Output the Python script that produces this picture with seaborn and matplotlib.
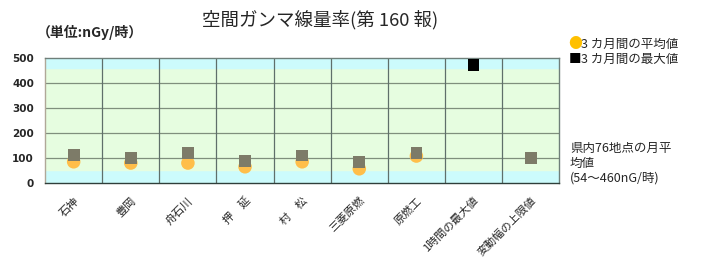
import matplotlib
matplotlib.use("Agg")
import matplotlib.pyplot as plt
import seaborn as sns
import pandas as pd
import numpy as np

sns.set_theme(style="white")
plt.rcParams['font.family'] = ['Noto Sans CJK JP', 'DejaVu Sans']

categories = ["石神", "豊岡", "舟石川", "押　延", "村　松", "三菱原燃", "原燃工", "1時間の最大値", "変動幅の上限値"]
avg_values = [85, 80, 80, 65, 85, 57, 108, np.nan, np.nan]
max_values = [112, 99, 119, 88, 110, 83, 121, 472, 99]
max_colors = ["#7d7b68"] * 7 + ["#000000", "#7d7b68"]
band_low, band_high = 54, 460
yticks = [0, 100, 200, 300, 400, 500]

df = pd.DataFrame({"site": categories, "avg": avg_values, "max": max_values})

fig = plt.figure(figsize=(7.16, 2.72), dpi=100)
ax = fig.add_axes([0.063, 0.327, 0.718, 0.460])

ax.set_xlim(-0.5, len(categories) - 0.5)
ax.set_ylim(0, 500)
ax.axhspan(0, band_low, color="#ccfbfc", zorder=0)
ax.axhspan(band_low, band_high, color="#e6fde0", zorder=0)
ax.axhspan(band_high, 500, color="#ccfbfc", zorder=0)

for y in [100, 200, 300, 400]:
    ax.axhline(y, color="#7f8f7d", lw=0.9, zorder=1)
for i in range(1, len(categories)):
    ax.axvline(i - 0.5, color="#5f6f6a", lw=0.9, zorder=1)

sns.scatterplot(data=df, x="site", y="avg", ax=ax, color="#ffbe4a", marker="o",
                s=95, edgecolor="none", zorder=3, legend=False)
sns.scatterplot(data=df, x="site", y="max", ax=ax, hue="site", palette=max_colors,
                marker="s", s=72, edgecolor="none", zorder=4, legend=False)

ax.set_xlim(-0.5, len(categories) - 0.5)
ax.set_ylim(0, 500)
ax.set_yticks(yticks)
ax.set_yticklabels([str(v) for v in yticks], fontsize=7.5, fontweight="bold", family="DejaVu Sans")
ax.set_xticks(range(len(categories)))
ax.set_xticklabels(categories, rotation=45, ha="right", rotation_mode="anchor", fontsize=8)
ax.tick_params(axis="x", length=0, pad=9)
ax.tick_params(axis="y", length=0, pad=8)
ax.set_xlabel("")
ax.set_ylabel("")
for side, sp in ax.spines.items():
    sp.set_color("#6f7f7a")
    sp.set_linewidth(1.0)
ax.spines["left"].set_color("#b0a898")
ax.spines["bottom"].set_color("#2f3f3a")

fig.text(0.447, 0.926, "空間ガンマ線量率(第 160 報)", ha="center", va="center", fontsize=13.3)
fig.text(0.052, 0.882, "（単位:nGy/時）", ha="left", va="center", fontsize=10, fontweight="bold")

fig.text(0.794, 0.838, "●", ha="left", va="center", fontsize=10, color="#ffc000")
fig.text(0.812, 0.838, "3 カ月間の平均値", ha="left", va="center", fontsize=9)
fig.text(0.794, 0.78, "■", ha="left", va="center", fontsize=9, color="black")
fig.text(0.812, 0.78, "3 カ月間の最大値", ha="left", va="center", fontsize=9)
fig.text(0.796, 0.40, "県内76地点の月平\n均値\n(54〜460nG/時)", ha="left", va="center",
         fontsize=9, linespacing=1.2)

fig.savefig("out.png", dpi=100)
